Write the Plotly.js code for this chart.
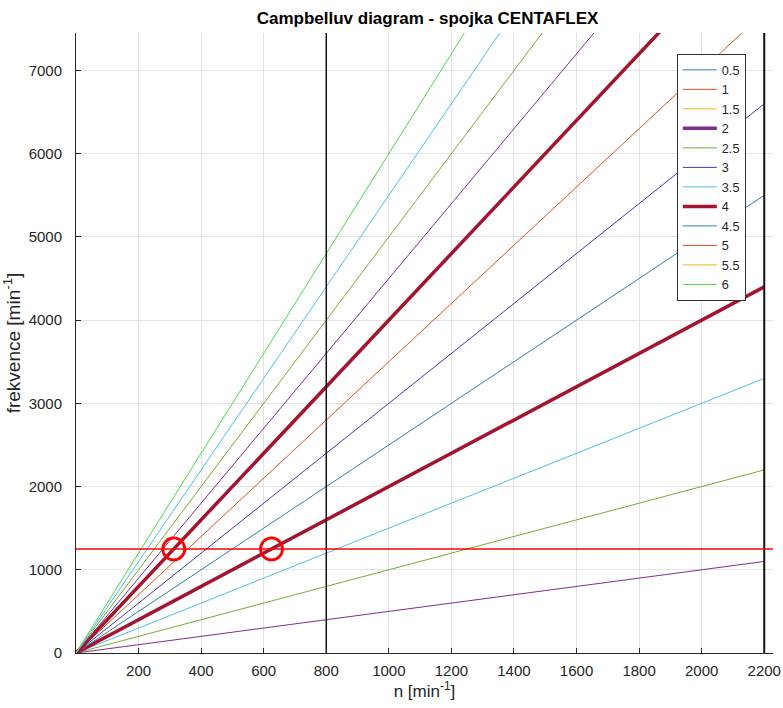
<!DOCTYPE html>
<html>
<head>
<meta charset="utf-8">
<script src="https://cdn.plot.ly/plotly-3.0.1.min.js"></script>
<style>html,body{margin:0;padding:0;background:#fff;}#chart{width:783px;height:708px;}</style>
</head>
<body>
<div id="chart"></div>
<script>
// ---- data ----
const orders = [0.5, 1, 1.5, 2, 2.5, 3, 3.5, 4, 4.5, 5, 5.5, 6];
const legendLabels = ["0.5", "1", "1.5", "2", "2.5", "3", "3.5", "4", "4.5", "5", "5.5", "6"];
const nPoints = [0, 2200];               // n [min^-1]
// frequency at n = 0 and n = 2200 for each order line
const freqStart = [0, 0, 0, 0, 0, 0, 0, 0, 0, 0, 0, 0];
const freqEnd = [1100, 2200, 3300, 4400, 5500, 6600, 7700, 8800, 9900, 11000, 12100, 13200];
const resonanceFreq = 1250;              // horizontal line
const resonanceLineN = [0, 2230];
const markerN = [312.5, 625];            // intersection points
const markerF = [1250, 1250];
const limitN = [800, 2200];              // vertical limits
const limitF = [0, 7450];
const xTicks = [200, 400, 600, 800, 1000, 1200, 1400, 1600, 1800, 2000, 2200];
const yTicks = [0, 1000, 2000, 3000, 4000, 5000, 6000, 7000];

// ---- styles ----
const drawnColors = ["#7E2F8E", "#77AC30", "#4DBEEE", "#A2142F", "#2A7FAE", "#3B3BB4",
                     "#D95319", "#A2142F", "#7E2F8E", "#77AC30", "#4DBEEE", "#4CD84C"];
const drawnWidths = [1, 1, 1, 3.5, 1, 1, 1, 3.5, 1, 1, 1, 1];
const legendColors = ["#2A7FAE", "#D95319", "#EDB120", "#7E2F8E", "#77AC30", "#3B3BB4",
                      "#4DBEEE", "#A2142F", "#2A7FAE", "#D95319", "#EDB120", "#4CD84C"];
const legendWidths = [1, 1, 1, 3.5, 1, 1, 1, 3.5, 1, 1, 1, 1];

const traces = [];
orders.forEach((k, i) => {
  traces.push({
    x: nPoints, y: [freqStart[i], freqEnd[i]], type: 'scatter', mode: 'lines',
    line: {color: drawnColors[i], width: drawnWidths[i]}, showlegend: false, hoverinfo: 'skip'
  });
});
limitN.forEach(v => {
  traces.push({x: [v, v], y: limitF, type: 'scatter', mode: 'lines',
    line: {color: '#111', width: v === 2200 ? 2 : 1.5}, showlegend: false});
});
traces.push({x: resonanceLineN, y: [resonanceFreq, resonanceFreq], type: 'scatter', mode: 'lines',
  line: {color: '#FF0000', width: 1.5}, showlegend: false});
traces.push({x: markerN, y: markerF, type: 'scatter', mode: 'markers',
  marker: {symbol: 'circle-open', size: 22, color: '#FF0000', line: {width: 2.8, color: '#FF0000'}},
  showlegend: false});
legendLabels.forEach((lab, i) => {
  traces.push({x: [null], y: [null], type: 'scatter', mode: 'lines', name: lab,
    line: {color: legendColors[i], width: legendWidths[i]}, showlegend: true});
});

const fontFam = '"Liberation Sans", Arial, Helvetica, sans-serif';
const layout = {
  width: 783, height: 708,
  margin: {l: 76, r: 10, t: 33, b: 55},
  paper_bgcolor: '#fff', plot_bgcolor: '#fff',
  font: {family: fontFam, size: 15, color: '#262626'},
  title: {text: '<b>Campbelluv diagram - spojka CENTAFLEX</b>', x: 0.546, xanchor: 'center',
          y: 0.975, yanchor: 'middle', font: {family: fontFam, size: 17, color: '#000'}},
  showlegend: true,
  legend: {x: 0.862, xanchor: 'left', y: 0.966, yanchor: 'top', bgcolor: '#fff',
           bordercolor: '#333', borderwidth: 1, tracegroupgap: 0, itemwidth: 34,
           font: {family: fontFam, size: 12.7, color: '#262626'}},
  xaxis: {range: [0, 2228], tickvals: xTicks,
          ticks: 'inside', ticklen: 5, tickcolor: '#262626', showline: true, linecolor: '#262626',
          linewidth: 1, showgrid: true, gridcolor: '#e3e3e3', zeroline: false,
          ticklabelstandoff: 4, tickfont: {size: 15},
          title: {text: 'n [min<sup>-1</sup>]', standoff: 6, font: {family: fontFam, size: 17, color: '#262626'}}},
  yaxis: {range: [0, 7450], tickvals: yTicks,
          ticks: 'inside', ticklen: 5, tickcolor: '#262626', showline: true, linecolor: '#262626',
          linewidth: 1, showgrid: true, gridcolor: '#e3e3e3', zeroline: false,
          ticklabelstandoff: 10, tickfont: {size: 15},
          title: {text: 'frekvence [min<sup>-1</sup>]', standoff: 6, font: {family: fontFam, size: 19, color: '#262626'}}}
};
Plotly.newPlot('chart', traces, layout, {staticPlot: true});
</script>
</body>
</html>
